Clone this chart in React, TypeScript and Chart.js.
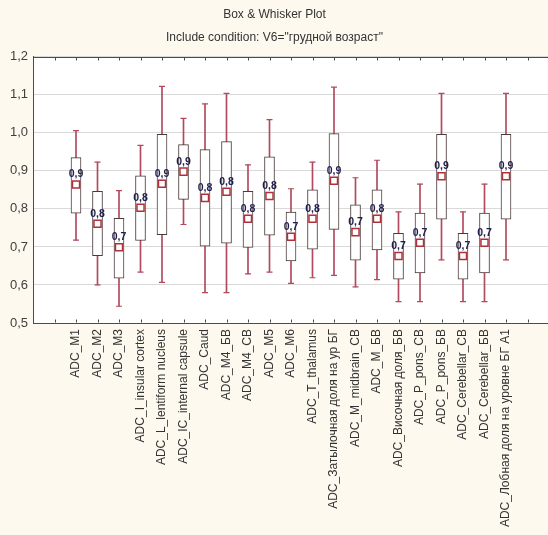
import React, { useEffect, useRef } from 'react';
import { Chart, registerables } from 'chart.js';

Chart.register(...registerables);

const titleText = 'Box & Whisker Plot';
const subtitleText = 'Include condition: V6="грудной возраст"';

const categories = [
  'ADC_M1',
  'ADC_M2',
  'ADC_M3',
  'ADC_I_insular cortex',
  'ADC_L_lentiform nucleus',
  'ADC_IC_internal capsule',
  'ADC_Caud',
  'ADC_M4_БВ',
  'ADC_M4_CB',
  'ADC_M5',
  'ADC_M6',
  'ADC_T_thalamus',
  'ADC_Затылочная доля на ур БГ',
  'ADC_M_midbrain_CB',
  'ADC_M_БВ',
  'ADC_Височная доля_БВ',
  'ADC_P_pons_CB',
  'ADC_P_pons_БВ',
  'ADC_Cerebellar_CB',
  'ADC_Cerebellar_БВ',
  'ADC_Лобная доля на уровне БГ А1',
];

const minVals = [0.718, 0.600, 0.544, 0.634, 0.607, 0.759, 0.580, 0.580, 0.629, 0.634, 0.604, 0.619, 0.625, 0.595, 0.614, 0.556, 0.556, 0.666, 0.556, 0.556, 0.666];
const q1Vals = [0.789, 0.677, 0.618, 0.717, 0.732, 0.825, 0.702, 0.710, 0.699, 0.731, 0.663, 0.694, 0.746, 0.665, 0.692, 0.615, 0.632, 0.773, 0.615, 0.632, 0.773];
const medianVals = [0.864, 0.761, 0.699, 0.803, 0.866, 0.898, 0.829, 0.845, 0.774, 0.834, 0.727, 0.774, 0.874, 0.739, 0.774, 0.676, 0.711, 0.886, 0.676, 0.711, 0.886];
const q3Vals = [0.935, 0.846, 0.775, 0.887, 0.996, 0.969, 0.956, 0.977, 0.846, 0.937, 0.792, 0.850, 0.998, 0.811, 0.850, 0.736, 0.789, 0.996, 0.736, 0.789, 0.996];
const maxVals = [1.006, 0.923, 0.848, 0.967, 1.122, 1.038, 1.076, 1.104, 0.916, 1.035, 0.853, 0.923, 1.120, 0.882, 0.928, 0.792, 0.865, 1.104, 0.792, 0.865, 1.104];

const Y_MIN = 0.5;
const Y_MAX = 1.2;
const Y_STEP = 0.1;
const X_MIN = -1;
const X_MAX = 23;

const CREAM = '#fdf9ef';
const FRAME = '#4a4a4a';
const WHISKER = '#b04a5c';
const BOXLINE = '#4b3a3a';
const MEDIAN = '#b0303a';
const LABEL = '#1f1f4f';
const FONT = '"Liberation Sans", Arial, sans-serif';

const fmt = (v: number) => v.toFixed(1).replace('.', ',');

const bgPlugin = {
  id: 'bgPlugin',
  beforeDraw(chart: any) {
    const { ctx, chartArea } = chart;
    ctx.save();
    ctx.fillStyle = CREAM;
    ctx.fillRect(0, 0, chart.width, chart.height);
    ctx.fillStyle = '#ffffff';
    ctx.fillRect(chartArea.left, chartArea.top, chartArea.right - chartArea.left, chartArea.bottom - chartArea.top);
    ctx.restore();
  },
};

const framePlugin = {
  id: 'framePlugin',
  afterDatasetsDraw(chart: any) {
    const { ctx, chartArea } = chart;
    const xs = chart.scales.x;
    ctx.save();
    ctx.strokeStyle = FRAME;
    ctx.lineWidth = 1;
    const top = Math.round(chartArea.top) + 0.5;
    const bottom = Math.round(chartArea.bottom) - 0.5;
    ctx.beginPath();
    ctx.moveTo(chartArea.left, top);
    ctx.lineTo(chartArea.right, top);
    for (let v = X_MIN + 1; v < X_MAX; v++) {
      const px = Math.round(xs.getPixelForValue(v)) + 0.5;
      ctx.moveTo(px, top);
      ctx.lineTo(px, top + 3);
      ctx.moveTo(px, bottom);
      ctx.lineTo(px, bottom - 3);
    }
    ctx.stroke();

    // median value labels
    const meta = chart.getDatasetMeta(0);
    ctx.fillStyle = LABEL;
    ctx.font = 'bold 10.5px ' + FONT;
    ctx.textAlign = 'center';
    ctx.textBaseline = 'middle';
    meta.data.forEach((el: any, i: number) => {
      ctx.fillText(fmt(medianVals[i]), el.x, el.y - 10);
    });
    ctx.restore();
  },
};

export default function App() {
  const ref = useRef<HTMLCanvasElement>(null);

  useEffect(() => {
    const xs = categories.map((_, i) => i + 1);
    const chart = new Chart(ref.current as HTMLCanvasElement, {
      type: 'bar',
      data: {
        datasets: [
          {
            type: 'scatter',
            label: 'median',
            data: xs.map((x, i) => ({ x, y: medianVals[i] })),
            pointStyle: 'rect',
            pointRadius: 5,
            pointBorderWidth: 1.5,
            pointBorderColor: MEDIAN,
            pointBackgroundColor: '#ffffff',
            order: 0,
          } as any,
          {
            type: 'bar',
            label: 'box',
            data: xs.map((x, i) => ({ x, y: [q1Vals[i], q3Vals[i]] })),
            backgroundColor: '#ffffff',
            borderColor: BOXLINE,
            borderWidth: 1,
            borderSkipped: false,
            barThickness: 10,
            grouped: false,
            order: 1,
          } as any,
          {
            type: 'scatter',
            label: 'caps',
            data: [
              ...xs.map((x, i) => ({ x, y: maxVals[i] })),
              ...xs.map((x, i) => ({ x, y: minVals[i] })),
            ],
            pointStyle: 'line',
            pointRadius: 3,
            pointBorderWidth: 1.2,
            pointBorderColor: WHISKER,
            order: 2,
          } as any,
          {
            type: 'bar',
            label: 'whisker',
            data: xs.map((x, i) => ({ x, y: [minVals[i], maxVals[i]] })),
            backgroundColor: WHISKER,
            borderWidth: 0,
            barThickness: 1,
            grouped: false,
            order: 3,
          } as any,
        ],
      },
      options: {
        responsive: false,
        animation: false,
        devicePixelRatio: 1,
        events: [],
        layout: { padding: { left: 0, right: 105, top: 0, bottom: 0 } },
        plugins: {
          legend: { display: false },
          tooltip: { enabled: false },
          title: {
            display: true,
            text: titleText,
            color: '#333333',
            font: { family: FONT, size: 12, weight: 'normal' },
            padding: { top: 7, bottom: 5 },
          },
          subtitle: {
            display: true,
            text: subtitleText,
            color: '#333333',
            font: { family: FONT, size: 12, weight: 'normal' },
            padding: { top: 4, bottom: 12 },
          },
        },
        scales: {
          x: {
            type: 'linear',
            min: X_MIN,
            max: X_MAX,
            offset: false,
            afterFit: (s: any) => {
              s.height = 212;
            },
            grid: { display: false, drawTicks: false },
            border: { display: true, color: FRAME },
            ticks: {
              stepSize: 1,
              autoSkip: false,
              minRotation: 90,
              maxRotation: 90,
              padding: 6,
              color: '#333333',
              font: { family: FONT, size: 12 },
              callback: (v: any) => {
                const n = Number(v);
                return Number.isInteger(n) && n >= 1 && n <= categories.length ? categories[n - 1] : '';
              },
            },
          },
          y: {
            type: 'linear',
            min: Y_MIN,
            max: Y_MAX,
            afterFit: (s: any) => {
              s.width = 33;
            },
            grid: { color: '#d9d9d9', drawTicks: false },
            border: { display: true, color: FRAME },
            ticks: {
              stepSize: Y_STEP,
              padding: 5,
              color: '#404040',
              font: { family: FONT, size: 13 },
              callback: (v: any) => fmt(Number(v)),
            },
          },
        },
      } as any,
      plugins: [bgPlugin, framePlugin],
    });
    return () => chart.destroy();
  }, []);

  return (
    <div
      style={{
        position: 'absolute',
        left: 0,
        top: 0,
        width: 548,
        height: 535,
        overflow: 'hidden',
        background: CREAM,
      }}
    >
      <canvas ref={ref} width={654} height={535} style={{ display: 'block' }} />
    </div>
  );
}
